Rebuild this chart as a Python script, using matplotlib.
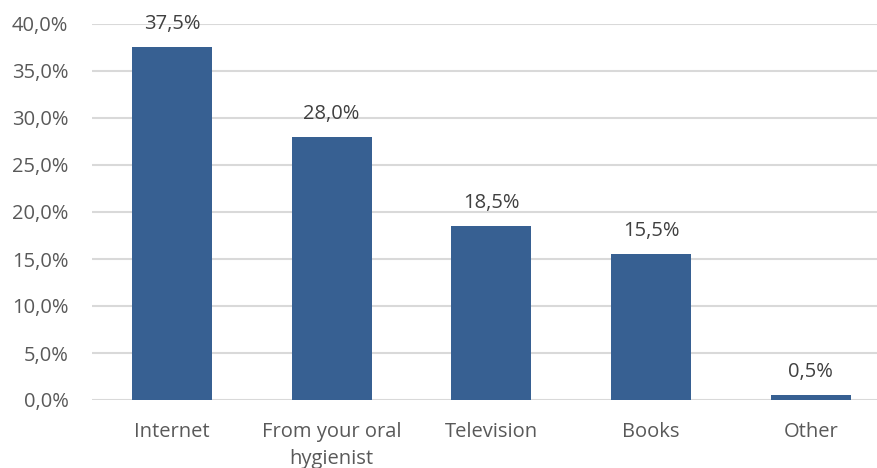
import matplotlib.pyplot as plt
from matplotlib.ticker import FuncFormatter

categories = ['Internet', 'From your oral\nhygienist', 'Television', 'Books', 'Other']
values = [37.5, 28.0, 18.5, 15.5, 0.5]
yticks = [0, 5, 10, 15, 20, 25, 30, 35, 40]

plt.rcParams['font.family'] = ['Open Sans', 'DejaVu Sans']

fig = plt.figure(figsize=(8.78, 4.68), dpi=100)
ax = fig.add_axes([92/878, 68/468, 1 - 92/878, 376/468])

x = range(len(categories))
ax.bar(x, values, width=0.5, color='#376092', zorder=3)

for xi, v in zip(x, values):
    ax.annotate(f'{v:.1f}%'.replace('.', ','), (xi, v), xytext=(0, 9.5),
                textcoords='offset points', ha='center', va='bottom',
                fontsize=14.5, color='#404040')

ax.set_ylim(0, 40)
ax.set_xlim(-0.5, 4.42)
ax.set_yticks(yticks)
ax.yaxis.set_major_formatter(FuncFormatter(lambda v, p: f'{v:.1f}%'.replace('.', ',')))
ax.set_xticks(list(x))
ax.set_xticklabels(categories, fontsize=14.5, color='#595959', linespacing=1.45)
ax.tick_params(axis='y', labelsize=14.5, labelcolor='#595959', length=0, pad=17)
ax.tick_params(axis='x', length=0, pad=16)
for lbl in ax.get_yticklabels():
    lbl.set_horizontalalignment('right')

ax.grid(axis='y', color='#d9d9d9', linewidth=1.5, zorder=0)
for s in ax.spines.values():
    s.set_visible(False)

fig.savefig('out.png', dpi=100)
